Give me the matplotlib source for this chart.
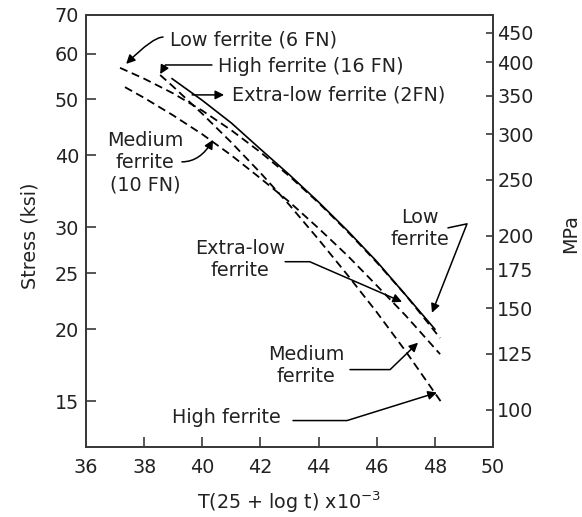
import numpy as np
import matplotlib
matplotlib.use("Agg")
from matplotlib import pyplot as plt
from matplotlib.ticker import FixedLocator, NullLocator, ScalarFormatter

# Larson-Miller parameter T(25 + log t) x 10^-3 against rupture stress (ksi)
extra_low_x = [38.96, 40, 41, 42, 43, 44, 45, 46, 47, 48.0]
extra_low_ksi = [54.3, 49.8, 45.5, 41.0, 37.0, 33.2, 29.6, 26.2, 22.9, 20.0]

low_x = [37.17, 38, 39, 40, 41, 42, 43, 44, 45, 46, 47, 48.18]
low_ksi = [56.7, 54.3, 51.2, 47.8, 44.2, 40.5, 36.8, 33.1, 29.5, 26.1, 22.9, 19.3]

medium_x = [37.34, 38, 39, 40, 41, 42, 43, 44, 45, 46, 47, 48.18]
medium_ksi = [52.5, 50.3, 46.9, 43.5, 40.0, 36.5, 33.2, 29.9, 26.8, 23.8, 21.1, 18.1]

high_x = [38.55, 39, 40, 41, 42, 43, 44, 45, 46, 47, 48.28]
high_ksi = [55.1, 52.6, 47.2, 42.1, 37.3, 32.8, 28.6, 24.8, 21.4, 18.3, 14.8]

ksi_ticks = [15, 20, 25, 30, 40, 50, 60, 70]
mpa_ticks = [100, 125, 150, 175, 200, 250, 300, 350, 400, 450]
x_ticks = [36, 38, 40, 42, 44, 46, 48, 50]
KSI_TO_MPA = 6.895

FS = 13.8
SPINE = '#3a3a3a'
INK = '#222222'

fig = plt.figure(figsize=(5.82, 5.17), dpi=100)
ax = fig.add_axes([0.1478, 0.1354, 0.6993, 0.8356])

dash = (0, (4.5, 2.6))
ax.plot(extra_low_x, extra_low_ksi, color='black', lw=1.2)
ax.plot(low_x, low_ksi, color='black', lw=1.3, linestyle=dash)
ax.plot(medium_x, medium_ksi, color='black', lw=1.3, linestyle=dash)
ax.plot(high_x, high_ksi, color='black', lw=1.3, linestyle=dash)

ax.set_yscale('log')
ax.set_xlim(36, 50)
ax.set_ylim(12.5, 70)
ax.yaxis.set_major_locator(FixedLocator(ksi_ticks))
ax.yaxis.set_minor_locator(NullLocator())
ax.yaxis.set_major_formatter(ScalarFormatter())
ax.set_xticks(x_ticks)
ax.tick_params(axis='both', direction='in', length=7, width=1.2,
               labelsize=FS, colors=SPINE, labelcolor=INK)
ax.tick_params(axis='x', pad=8)
ax.tick_params(axis='y', pad=5)
ax.tick_params(axis='y', which='minor', length=0)

# right-hand axis in MPa
ax2 = ax.twinx()
ax2.set_yscale('log')
ax2.set_ylim(12.5 * KSI_TO_MPA, 70 * KSI_TO_MPA)
ax2.yaxis.set_major_locator(FixedLocator(mpa_ticks))
ax2.yaxis.set_minor_locator(NullLocator())
ax2.yaxis.set_major_formatter(ScalarFormatter())
ax2.tick_params(axis='y', direction='in', length=5, width=1.2, pad=3,
                labelsize=FS, colors=SPINE, labelcolor=INK)
ax2.tick_params(axis='y', which='minor', length=0)

for a in (ax, ax2):
    for s in a.spines.values():
        s.set_color(SPINE)
        s.set_linewidth(1.4)

ax.set_ylabel('Stress (ksi)', fontsize=FS, color=INK, va='center')
ax.yaxis.set_label_coords(-0.138, 0.49)
ax2.set_ylabel('MPa', fontsize=FS, color=INK, va='center')
ax2.yaxis.set_label_coords(1.19, 0.495)
ax.set_xlabel('T(25 + log t) x10$^{-3}$', fontsize=FS, color=INK, va='center')
ax.xaxis.set_label_coords(0.5, -0.128)

arrow = dict(arrowstyle='-|>', color='black', lw=1.1, mutation_scale=13,
             shrinkA=0, shrinkB=0)


def label(text, pos, ha='left'):
    ax.text(pos[0], pos[1], text, fontsize=FS, ha=ha, va='center',
            multialignment='center', linespacing=1.22, color=INK)


def pointer(tail, tip, conn='arc3,rad=0'):
    ax.annotate('', xy=tip, xytext=tail,
                arrowprops=dict(arrow, connectionstyle=conn))


# labels at the start of the curves
label('Low ferrite (6 FN)', (38.89, 63.4))
pointer((38.65, 64.1), (37.38, 57.6), 'angle3,angleA=0,angleB=45')

label('High ferrite (16 FN)', (40.54, 56.9))
pointer((40.33, 57.35), (38.55, 55.3), 'angle,angleA=0,angleB=60,rad=0')

label('Extra-low ferrite (2FN)', (41.02, 50.9))
pointer((39.65, 50.9), (40.75, 50.9))

label('Medium\nferrite\n(10 FN)', (38.03, 38.8), ha='center')
pointer((39.30, 38.97), (40.37, 42.55), 'angle3,angleA=0,angleB=60')

# labels at the end of the curves
label('Extra-low\nferrite', (41.30, 26.4), ha='center')
pointer((42.85, 26.17), (46.87, 22.3), 'angle,angleA=0,angleB=-23.5,rad=0')

label('Low\nferrite', (47.49, 29.9), ha='center')
pointer((48.45, 29.95), (47.90, 21.35), 'angle,angleA=12,angleB=68.5,rad=0')

label('Medium\nferrite', (43.57, 17.29), ha='center')
pointer((45.08, 17.02), (47.42, 18.95), 'angle,angleA=0,angleB=44,rad=0')

label('High ferrite', (38.96, 14.06))
pointer((43.12, 13.89), (48.07, 15.53), 'angle,angleA=0,angleB=17.3,rad=0')

fig.savefig('out.png', dpi=100)
